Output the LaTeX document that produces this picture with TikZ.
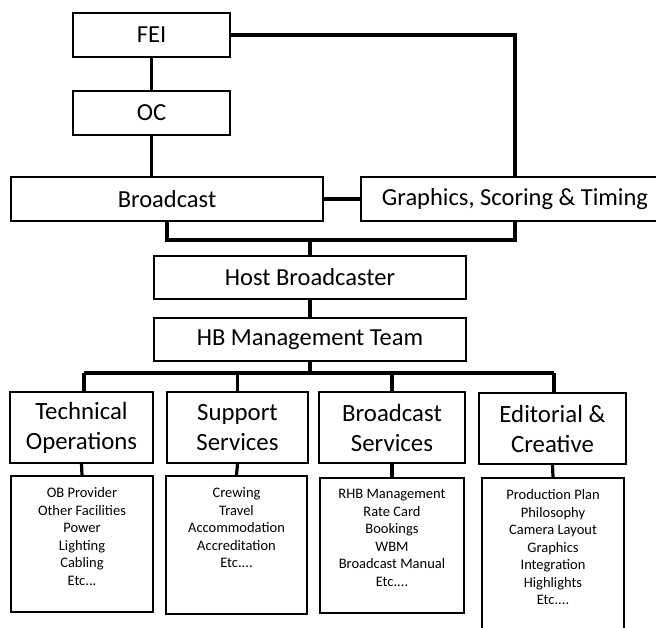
\documentclass[tikz,border=0pt]{standalone}
\usepackage{fontspec}
\setmainfont{Carlito}
\begin{document}
\begin{tikzpicture}[x=1pt,y=-1pt,
  box/.style={draw=black,line width=1.2pt,fill=white,inner sep=0pt,anchor=center},
  conn/.style={draw=black,line width=3.2pt,line join=miter},
  midtxt/.style={font=\fontsize{24.5}{29}\selectfont},
  headtxt/.style={font=\fontsize{24.8}{30}\selectfont,align=center},
  dettxt/.style={font=\fontsize{14.5}{17.5}\selectfont,align=center,anchor=north,inner sep=0pt}]
\useasboundingbox (0,0) rectangle (656,628);
\clip (0,0) rectangle (656,628);
\coordinate (gsx) at (515,221);
\coordinate (busB) at (310,240);
\coordinate (busH) at (310,373);
\coordinate (busL) at (84,373);
\coordinate (busR) at (554,373);
% boxes
\node[box,minimum width=157pt,minimum height=44pt,midtxt] (fei) at (151.5,35) {FEI};
\node[box,minimum width=157pt,minimum height=44pt,midtxt] (oc) at (151.5,113) {OC};
\node[box,minimum width=312pt,minimum height=44pt,midtxt] (bc) at (167,199) {Broadcast};
\node[box,minimum width=308pt,minimum height=44pt,midtxt] (gst) at (515,199) {Graphics, Scoring \& Timing};
\node[box,minimum width=312pt,minimum height=43pt,midtxt] (hb) at (310,277.5) {Host Broadcaster};
\node[box,minimum width=312pt,minimum height=43pt,midtxt] (hbm) at (310,339.5) {HB Management Team};
\node[box,minimum width=143pt,minimum height=71pt,headtxt] (tech) at (81.5,427.5) {Technical\\Operations};
\node[box,minimum width=141pt,minimum height=71pt,headtxt] (supp) at (237.5,427.5) {Support\\Services};
\node[box,minimum width=146pt,minimum height=71pt,headtxt] (bsrv) at (392,427.5) {Broadcast\\Services};
\node[box,minimum width=147pt,minimum height=71pt,headtxt] (edit) at (552.5,428.5) {Editorial \&\\Creative};
\node[box,minimum width=142pt,minimum height=136pt] (techd) at (82,544) {};
\node[box,minimum width=141pt,minimum height=138pt] (suppd) at (236.5,545) {};
\node[box,minimum width=144pt,minimum height=135pt] (bsrvd) at (392,545.5) {};
\node[box,minimum width=142pt,minimum height=170pt] (editd) at (553,563) {};
% detail texts
\node[dettxt] (techt) at ([yshift=-12pt]techd.north) {OB Provider\\Other Facilities\\Power\\Lighting\\Cabling\\Etc...};
\node[dettxt] (suppt) at ([yshift=-12pt]suppd.north) {Crewing\\Travel\\Accommodation\\Accreditation\\Etc....};
\node[dettxt] (bsrvt) at ([yshift=-12pt]bsrvd.north) {RHB Management\\Rate Card\\Bookings\\WBM\\Broadcast Manual\\Etc....};
\node[dettxt] (editt) at ([yshift=-12pt]editd.north) {Production Plan\\Philosophy\\Camera Layout\\Graphics\\Integration\\Highlights\\Etc....};
% connectors
\draw[conn] (fei.south) -- (oc.north);
\draw[conn] (oc.south) -- (oc.south |- bc.north);
\draw[conn] (fei.east) -| (gsx |- gst.north);
\draw[conn] (bc.east) -- (gst.west);
\draw[conn] (bc.south) |- (busB) -| (gsx);
\draw[conn] (busB) -- (hb.north);
\draw[conn] (hb.south) -- (hbm.north);
\draw[conn] (hbm.south) -- (busH);
\draw[conn] (busL) -- (busR);
\draw[conn] (busL) -- (busL |- tech.north);
\draw[conn] (supp.north |- busH) -- (supp.north);
\draw[conn] (bsrv.north |- busH) -- (bsrv.north);
\draw[conn] (busR) -- (busR |- edit.north);
\draw[conn] (tech.south) -- (techd.north);
\draw[conn] (supp.south) -- (suppd.north);
\draw[conn] (bsrv.south) -- (bsrvd.north);
\draw[conn] (edit.south) -- (editd.north);
\end{tikzpicture}
\end{document}
